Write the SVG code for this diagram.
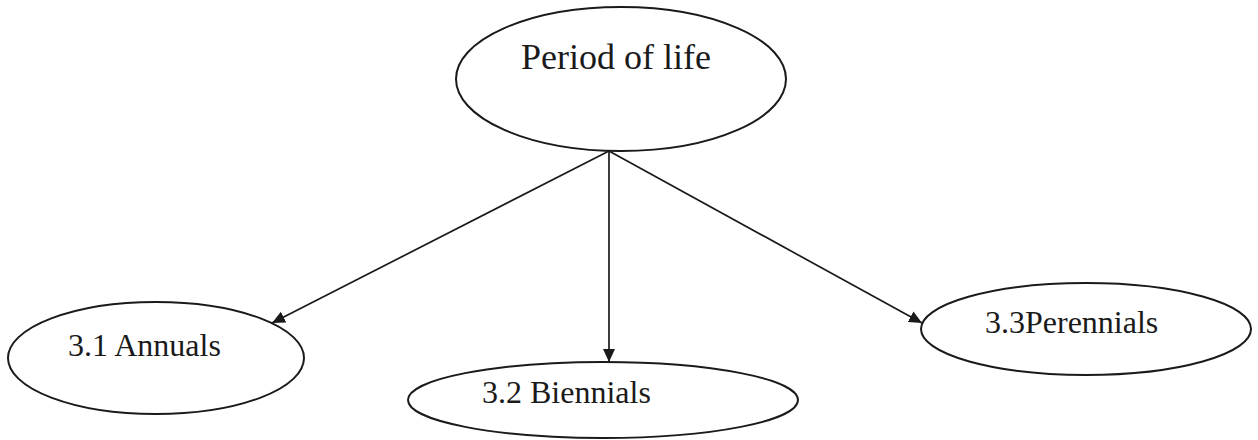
<svg xmlns="http://www.w3.org/2000/svg" width="1258" height="440" viewBox="0 0 1258 440">
<style>
.node ellipse{fill:#fff;stroke:#1a1a1a;stroke-width:2}
.node text{font-family:"Liberation Serif","Times New Roman",serif;fill:#1a1a1a}
.conn line{stroke:#1a1a1a;stroke-width:1.7}
</style>
<defs>
<marker id="ah" viewBox="0 0 13 12" refX="13" refY="6" markerWidth="13" markerHeight="12" markerUnits="userSpaceOnUse" orient="auto">
<path d="M0,0 L13,6 L0,12 z" fill="#1a1a1a"/>
</marker>
</defs>
<rect width="1258" height="440" fill="#fff"/>
<g class="conn">
<line x1="609" y1="151" x2="272" y2="323" marker-end="url(#ah)"/>
<line x1="609" y1="151" x2="609" y2="362" marker-end="url(#ah)"/>
<line x1="609" y1="151" x2="922" y2="323" marker-end="url(#ah)"/>
</g>
<g id="period" class="node">
<ellipse cx="621" cy="79" rx="165" ry="72"/>
<text x="521" y="69" font-size="36">Period of life</text>
</g>
<g id="annuals" class="node">
<ellipse cx="156" cy="358" rx="148" ry="56"/>
<text x="68" y="356" font-size="32">3.1 Annuals</text>
</g>
<g id="biennials" class="node">
<ellipse cx="603" cy="400" rx="195" ry="38"/>
<text x="482" y="403" font-size="32">3.2 Biennials</text>
</g>
<g id="perennials" class="node">
<ellipse cx="1086" cy="329" rx="165" ry="46"/>
<text x="985" y="333" font-size="32">3.3Perennials</text>
</g>
</svg>
